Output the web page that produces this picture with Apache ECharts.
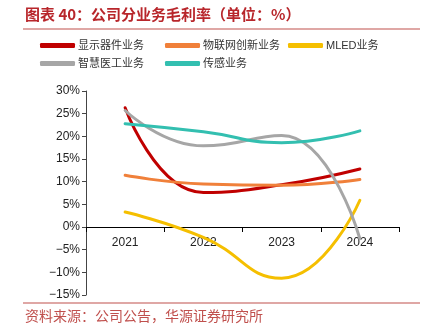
<!DOCTYPE html>
<html><head><meta charset="utf-8">
<script src="https://cdn.jsdelivr.net/npm/echarts@6/dist/echarts.min.js"></script>
<style>html,body{margin:0;padding:0;background:#fff}#c{width:425px;height:333px}</style>
</head><body><div id="c"></div>
<script>
const categories = ['2021', '2022', '2023', '2024'];
const seriesNames = ['显示器件业务', '物联网创新业务', 'MLED业务', '智慧医工业务', '传感业务'];
const display = [26.3, 7.6, 9.3, 12.8];
const iot = [11.4, 9.5, 9.2, 10.5];
const mled = [3.3, -2.3, -11.3, 5.9];
const medical = [25.7, 17.9, 20.2, -2.6];
const sensing = [22.8, 21.0, 18.6, 21.2];
const yTicks = { min: -15, max: 30, interval: 5 };
const colors = ['#c00000', '#f0803a', '#f5bf00', '#a6a6a6', '#33bfb0'];
const values = [display, iot, mled, medical, sensing];
const legendPos = [[40, 40], [165, 40], [288, 40], [40, 58], [165, 58]];

const gridTop = 91, gridBottom = 38, H = 333;
const plotH = H - gridTop - gridBottom;
const zeroOffset = plotH * (0 - yTicks.min) / (yTicks.max - yTicks.min);

const chart = echarts.init(document.getElementById('c'), null, { renderer: 'canvas' });
const fontFam = '"Liberation Sans", Arial, "Noto Sans CJK SC", sans-serif';
chart.setOption({
  animation: false,
  color: colors,
  textStyle: { fontFamily: fontFam },
  graphic: [
    { type: 'text', left: 25, top: 7, style: { text: '图表 40：公司分业务毛利率（单位：%）', fill: '#b8262b', font: 'bold 15px "Noto Sans CJK SC", sans-serif' } },
    { type: 'line', shape: { x1: 23, y1: 29, x2: 420, y2: 29 }, style: { stroke: '#c0504d', lineWidth: 1.2 } },
    { type: 'line', shape: { x1: 23, y1: 303, x2: 420, y2: 303 }, style: { stroke: '#c0504d', lineWidth: 1.2 } },
    { type: 'text', left: 25, top: 309, style: { text: '资料来源：公司公告，华源证券研究所', fill: '#c0504d', font: '14px "Noto Sans CJK SC", sans-serif' } }
  ],
  legend: seriesNames.map((n, i) => ({
    left: legendPos[i][0], top: legendPos[i][1],
    data: [n], icon: 'roundRect', itemWidth: 35, itemHeight: 5, itemGap: 0,
    textStyle: { fontSize: 11, color: '#333', padding: [0, 0, 0, -2], fontFamily: fontFam },
    padding: 0
  })),
  grid: { left: 86, right: 26, top: gridTop, bottom: gridBottom },
  xAxis: {
    type: 'category', data: categories, boundaryGap: true, position: 'bottom',
    offset: -zeroOffset,
    axisLine: { onZero: false, lineStyle: { color: '#000', width: 1 } },
    axisTick: { show: true, length: 5, lineStyle: { color: '#000' } },
    axisLabel: { color: '#222', fontSize: 12, margin: 10 }
  },
  yAxis: {
    type: 'value', min: yTicks.min, max: yTicks.max, interval: yTicks.interval,
    axisLine: { show: true, lineStyle: { color: '#444', width: 1 } },
    axisTick: { show: true, length: 4, lineStyle: { color: '#444' } },
    splitLine: { show: false },
    axisLabel: { color: '#222', fontSize: 12, margin: 6, formatter: v => (v < 0 ? '\u2212' + Math.abs(v) : v) + '%' }
  },
  series: seriesNames.map((n, i) => ({
    name: n, type: 'line', data: values[i], smooth: 0.5, showSymbol: false, symbol: 'none',
    lineStyle: { width: 3, color: colors[i], cap: 'round' }, itemStyle: { color: colors[i] }
  }))
});
</script></body></html>
